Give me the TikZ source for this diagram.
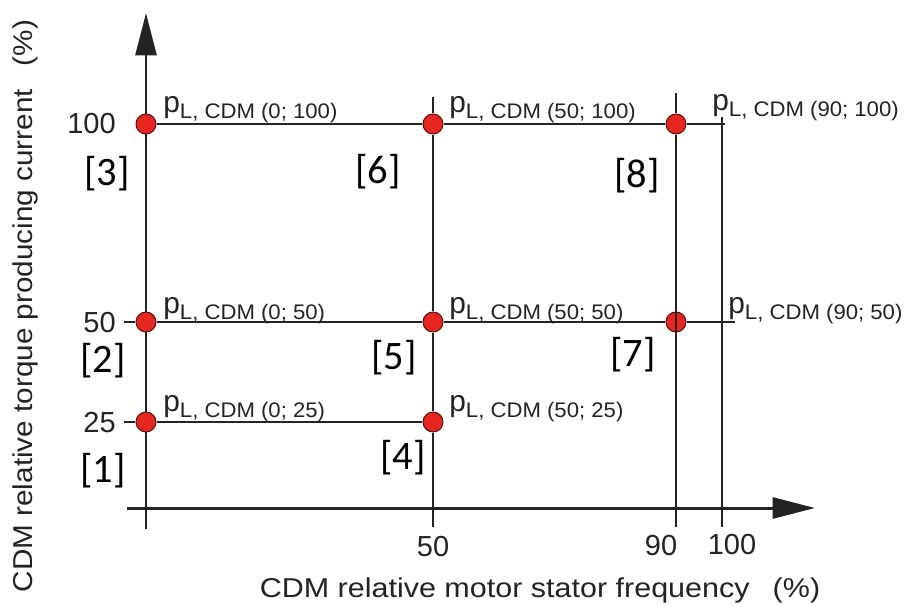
\documentclass[tikz,border=0pt]{standalone}
\usepackage{fontspec}
\setmainfont{Liberation Sans}
\newfontfamily\widesans[FakeStretch=1.12]{Liberation Sans}
\newfontfamily\tallsans[FakeStretch=1.09]{Liberation Sans}
\newfontfamily\subsans[FakeStretch=1.05]{Liberation Sans}
\newfontfamily\calib{Carlito}
\usetikzlibrary{positioning,arrows.meta}
\definecolor{dotred}{RGB}{232,38,32}
\definecolor{dotedge}{RGB}{90,20,20}
\definecolor{ink}{RGB}{35,35,35}
\newcommand{\pcdm}[1]{{\fontsize{17}{18}\selectfont p}\raisebox{-3.5pt}{\subsans\fontsize{12}{14}\selectfont L, CDM (#1)}}

\begin{document}
\begin{tikzpicture}[x=0.02cm, y=-0.02cm, >={Triangle[length=0.85cm, width=0.42cm]},
    axis/.style={line width=1.7pt, draw=ink},
    gridline/.style={line width=1.1pt, draw=ink},
    dot/.style={circle, draw=dotedge, line width=0.6pt, fill=dotred, minimum size=0.4cm, inner sep=0pt},
    tick/.style={font=\fontsize{16.5}{18}\selectfont, text=ink, inner sep=0pt},
    zone/.style={font=\calib\fontsize{23}{25}\selectfont, text=black, inner sep=0pt},
    plabel/.style={anchor=base west, inner sep=0pt, text=ink},
    title/.style={font=\widesans\fontsize{15.5}{18}\selectfont, text=ink, inner sep=0pt}]
      \useasboundingbox (0,0) rectangle (912,606);

      % axes
      \coordinate (ytop) at (146,13);
      \coordinate (ybot) at (146,529);
      \coordinate (xleft) at (127,508);
      \coordinate (xright) at (815,508);
      \draw[axis, ->] (ybot) -- (ytop);
      \draw[axis, ->] (xleft) -- (xright);

      % operating points
      \node[dot] (p0h) at (146,124) {};
      \node[dot] (p0m) at (146,322) {};
      \node[dot] (p0l) at (146,422) {};
      \node[dot] (p50h) at (433,124) {};
      \node[dot] (p50m) at (433,322) {};
      \node[dot] (p50l) at (433,422) {};
      \node[dot] (p90h) at (676,124) {};
      \node[dot] (p90m) at (676,322) {};

      % grid lines
      \coordinate (t50) at (433,97);
      \coordinate (b50) at (433,527);
      \coordinate (t90) at (676,93);
      \coordinate (b90) at (676,527);
      \coordinate (t100) at (722,117);
      \coordinate (b100) at (722,527);
      \coordinate (e100) at (725,124);
      \coordinate (s50) at (124,322);
      \coordinate (e50) at (735,322);
      \coordinate (s25) at (124,422);
      \draw[gridline] (t50) -- (p50h) -- (p50m) -- (p50l) -- (b50);
      \draw[gridline] (t90) -- (p90h) -- (p90m.center) -- (b90);
      \draw[gridline] (t100) -- (b100);
      \draw[gridline] (p0h) -- (p50h) -- (p90h) -- (e100);
      \draw[gridline, line width=1.5pt] (s50) -- (p0m) -- (p50m) -- (p90m) -- (e50);
      \draw[gridline] (s25) -- (p0l) -- (p50l);

      % point labels
      \node[plabel] (l0h) at (163,112) {\pcdm{0; 100}};
      \node[plabel] (l50h) at (449,112) {\pcdm{50; 100}};
      \node[plabel] (l90h) at (712,110) {\pcdm{90; 100}};
      \node[plabel] (l0m) at (163,313) {\pcdm{0; 50}};
      \node[plabel] (l50m) at (449,313) {\pcdm{50; 50}};
      \node[plabel] (l90m) at (728,313) {\pcdm{90; 50}};
      \node[plabel] (l0l) at (163,411) {\pcdm{0; 25}};
      \node[plabel] (l50l) at (449,411) {\pcdm{50; 25}};

      % zones
      \node[zone] (z1) at (103,471) {[1]};
      \node[zone] (z2) at (103,361) {[2]};
      \node[zone] (z3) at (107,174) {[3]};
      \node[zone] (z4) at (403,458) {[4]};
      \node[zone] (z5) at (394,358) {[5]};
      \node[zone] (z6) at (378,172) {[6]};
      \node[zone] (z7) at (633,355) {[7]};
      \node[zone] (z8) at (637,176) {[8]};

      % scale values
      \node[tick, anchor=east] (y100) at (116,124) {100};
      \node[tick, anchor=east] (y50) at (116,323) {50};
      \node[tick, anchor=east] (y25) at (116,423) {25};
      \node[tick] (x50) at (433,547) {50};
      \node[tick] (x90) at (661,546) {90};
      \node[tick] (x100) at (732,545) {100};

      % axis titles
      \node[title] (xtitle) at (540,590) {CDM relative motor stator frequency\hspace{0.85em}(\%)};
      \node[title, font=\tallsans\fontsize{15.5}{18}\selectfont, rotate=90] (ytitle) at (25,306) {CDM relative torque producing current\hspace{0.85em}(\%)};
    \end{tikzpicture}
\end{document}
